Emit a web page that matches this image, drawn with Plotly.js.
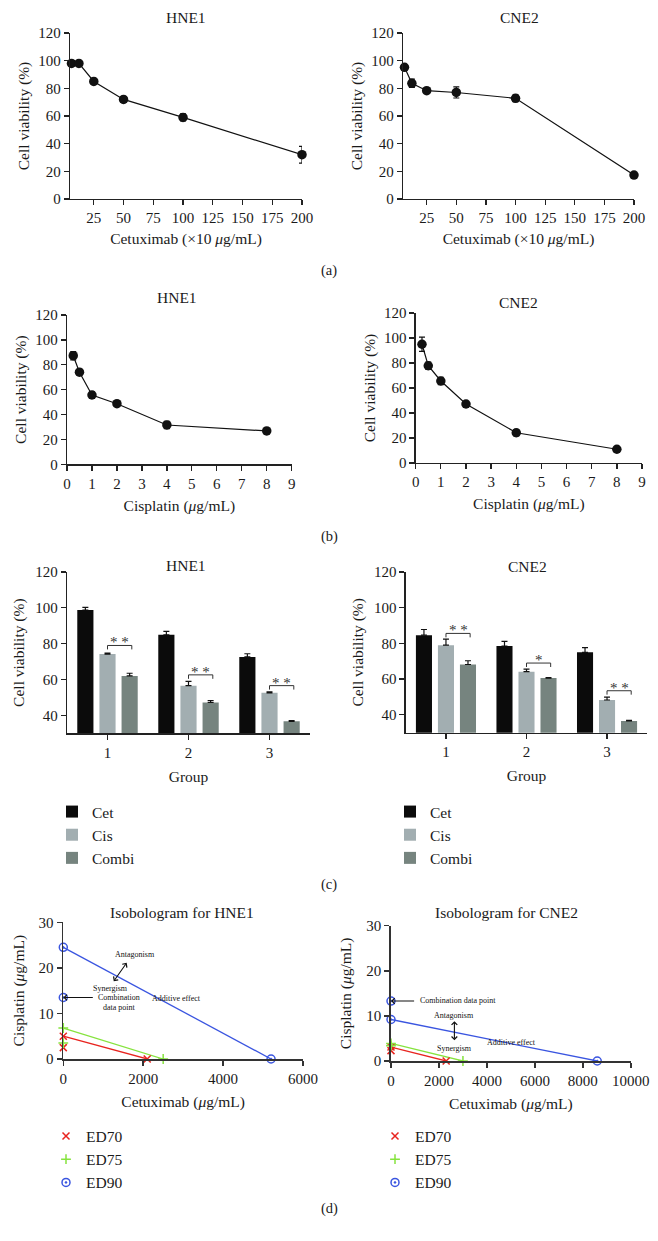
<!DOCTYPE html>
<html>
<head>
<meta charset="utf-8">
<script src="https://cdn.plot.ly/plotly-3.0.1.min.js"></script>
<style>html,body{margin:0;padding:0;background:#fff;}#chart{width:658px;height:1241px;}</style>
</head>
<body>
<div id="chart"></div>
<script>
// ---------------- DATA ----------------
const cetDoses = [6.25, 12.5, 25, 50, 100, 200];
const cetHNE1 = [98, 98, 85, 72, 59, 32];
const cetHNE1Err = [1, 1, 1, 2, 2.5, 6];
const cetCNE2 = [95.2, 83.6, 78.3, 77, 72.8, 17.3];
const cetCNE2Err = [1, 3, 1, 4, 2.5, 1];

const cisDoses = [0.25, 0.5, 1, 2, 4, 8];
const cisHNE1 = [87.3, 74, 55.7, 48.7, 31.6, 26.8];
const cisHNE1Err = [3.3, 1, 2.5, 2, 3, 1];
const cisCNE2 = [95, 77.8, 65.6, 47.2, 24.2, 11];
const cisCNE2Err = [5.7, 3, 3, 1, 2.5, 1];

const groups = [1, 2, 3];
const barNames = ['Cet', 'Cis', 'Combi'];
const hne1Cet = [98.8, 85, 72.6];
const hne1CetErr = [1.5, 1.9, 1.8];
const hne1Cis = [74.2, 56.6, 52.6];
const hne1CisErr = [0.6, 2.4, 0.5];
const hne1Combi = [62, 47.2, 36.7];
const hne1CombiErr = [1.5, 1.1, 0.4];
const cne2Cet = [84.6, 78.5, 75];
const cne2CetErr = [3.2, 2.6, 2.6];
const cne2Cis = [79, 64.2, 48.3];
const cne2CisErr = [3.4, 1.4, 1.6];
const cne2Combi = [68.2, 60.6, 36.6];
const cne2CombiErr = [2.1, 0.3, 0.3];
const hne1Sig = ['* *', '* *', '* *'];
const hne1SigY = [79, 62.6, 56.6];
const cne2Sig = ['* *', '*', '* *'];
const cne2SigY = [85.6, 69, 53.5];

// Isobolograms: additive lines (Cisplatin-alone intercept, Cetuximab-alone intercept) and combination points
const edNames = ['ED70', 'ED75', 'ED90'];
const hne1CisAlone = [5, 6.8, 24.5];
const hne1CetAlone = [2100, 2500, 5200];
const hne1Combo = [2.5, 3.5, 13.5];
const cne2CisAlone = [3.1, 3.9, 9.2];
const cne2CetAlone = [2300, 3000, 8600];
const cne2Combo = [2.3, 3.4, 13.3];

// ---------------- STYLE ----------------
const W = 658, H = 1241;
const SERIF = 'Liberation Serif';
const INK = '#1a1a1a';
const px = p => p / W;
const py = p => 1 - p / H;

const barColors = ['#0b0b0b', '#a2aeb1', '#76847f'];
const edColors = ['#e8241f', '#86e33e', '#3a55e0'];
const edSymbols = ['x-thin-open', 'cross-thin-open', 'circle-open-dot'];

function axisBase(extra) {
  return Object.assign({
    showline: true, linecolor: '#222', linewidth: 1.3,
    ticks: 'outside', ticklen: 5, tickwidth: 1.3, tickcolor: '#222',
    showgrid: false, zeroline: false, fixedrange: true, automargin: false,
    tickformat: 'd',
    tickfont: {family: SERIF, size: 15, color: INK}
  }, extra);
}
function ttl(text, standoff) {
  return {text: text, standoff: standoff, font: {family: SERIF, size: 15.5, color: INK}};
}

const traces = [];

// ---- (a) and (b) dose-response curves
function doseTrace(x, y, err, xa, ya) {
  return {
    type: 'scatter', mode: 'lines+markers', x: x, y: y,
    xaxis: xa, yaxis: ya, showlegend: false, cliponaxis: false,
    line: {color: '#111', width: 1.2},
    marker: {color: '#111', size: 9.5},
    error_y: {type: 'data', array: err, visible: true, color: '#111', thickness: 1.2, width: 3}
  };
}
traces.push(doseTrace(cetDoses, cetHNE1, cetHNE1Err, 'x', 'y'));
traces.push(doseTrace(cetDoses, cetCNE2, cetCNE2Err, 'x2', 'y2'));
traces.push(doseTrace(cisDoses, cisHNE1, cisHNE1Err, 'x3', 'y3'));
traces.push(doseTrace(cisDoses, cisCNE2, cisCNE2Err, 'x4', 'y4'));

// ---- (c) grouped bars
function barTrace(i, vals, err, xa, ya, leg) {
  return {
    type: 'bar', name: barNames[i], x: groups, y: vals,
    xaxis: xa, yaxis: ya, legend: leg, offsetgroup: String(i),
    marker: {color: barColors[i], line: {width: 0}},
    error_y: {type: 'data', symmetric: false, array: err, arrayminus: err.map(() => 0),
              visible: true, color: '#111', thickness: 1.2, width: 3}
  };
}
traces.push(barTrace(0, hne1Cet, hne1CetErr, 'x5', 'y5', 'legend'));
traces.push(barTrace(1, hne1Cis, hne1CisErr, 'x5', 'y5', 'legend'));
traces.push(barTrace(2, hne1Combi, hne1CombiErr, 'x5', 'y5', 'legend'));
traces.push(barTrace(0, cne2Cet, cne2CetErr, 'x6', 'y6', 'legend2'));
traces.push(barTrace(1, cne2Cis, cne2CisErr, 'x6', 'y6', 'legend2'));
traces.push(barTrace(2, cne2Combi, cne2CombiErr, 'x6', 'y6', 'legend2'));

// ---- (d) isobolograms
function isoTraces(cisAlone, cetAlone, combo, xa, ya, leg) {
  for (let i = 0; i < 3; i++) {
    traces.push({
      type: 'scatter', mode: 'lines', x: [0, cetAlone[i]], y: [cisAlone[i], 0],
      xaxis: xa, yaxis: ya, showlegend: false, hoverinfo: 'skip',
      line: {color: edColors[i], width: 1.3}
    });
  }
  for (let i = 0; i < 3; i++) {
    traces.push({
      type: 'scatter', mode: 'markers', name: edNames[i],
      x: [0, cetAlone[i], 0], y: [cisAlone[i], 0, combo[i]],
      xaxis: xa, yaxis: ya, legend: leg, cliponaxis: false,
      marker: {symbol: edSymbols[i], size: i === 2 ? 8 : 7, color: edColors[i],
               line: {color: edColors[i], width: 1.5}}
    });
  }
}
isoTraces(hne1CisAlone, hne1CetAlone, hne1Combo, 'x7', 'y7', 'legend3');
isoTraces(cne2CisAlone, cne2CetAlone, cne2Combo, 'x8', 'y8', 'legend4');

// ---------------- LAYOUT ----------------
const cellTitle = 'Cell viability (%)';
const dAxis = {linecolor: '#333', linewidth: 1.8, tickcolor: '#333', tickwidth: 1.5};
const legendBase = {xanchor: 'left', yanchor: 'middle', bgcolor: 'rgba(0,0,0,0)',
                    font: {family: SERIF, size: 15.5, color: INK}, traceorder: 'normal'};
const layout = {
  width: W, height: H,
  margin: {l: 0, r: 0, t: 0, b: 0},
  paper_bgcolor: '#fff', plot_bgcolor: 'rgba(0,0,0,0)',
  font: {family: SERIF, color: INK},
  barmode: 'group', bargap: 0.18, bargroupgap: 0.27,
  // (a)
  xaxis: axisBase({domain: [px(70), px(302)], anchor: 'y', range: [5, 200], tick0: 25, dtick: 25,
                   title: ttl('Cetuximab (×10 <i>μ</i>g/mL)', 8)}),
  yaxis: axisBase({domain: [py(199), py(33)], anchor: 'x', range: [0, 120], dtick: 20,
                   title: ttl(cellTitle, 4)}),
  xaxis2: axisBase({domain: [px(403), px(634)], anchor: 'y2', range: [5, 200], tick0: 25, dtick: 25,
                   title: ttl('Cetuximab (×10 <i>μ</i>g/mL)', 8)}),
  yaxis2: axisBase({domain: [py(199), py(33)], anchor: 'x2', range: [0, 120], dtick: 20,
                   title: ttl(cellTitle, 4)}),
  // (b)
  xaxis3: axisBase({domain: [px(67), px(291.7)], anchor: 'y3', range: [0, 9], dtick: 1,
                   title: ttl('Cisplatin (<i>μ</i>g/mL)', 9)}),
  yaxis3: axisBase({domain: [py(464.3), py(315)], anchor: 'x3', range: [0, 120], dtick: 20,
                   title: ttl(cellTitle, 4)}),
  xaxis4: axisBase({domain: [px(415.7), px(642)], anchor: 'y4', range: [0, 9], dtick: 1,
                   title: ttl('Cisplatin (<i>μ</i>g/mL)', 9)}),
  yaxis4: axisBase({domain: [py(463), py(313)], anchor: 'x4', range: [0, 120], dtick: 20,
                   title: ttl(cellTitle, 4)}),
  // (c)
  xaxis5: axisBase({domain: [px(67), px(310)], anchor: 'y5', range: [0.5, 3.5], tickvals: groups,
                   title: ttl('Group', 11)}),
  yaxis5: axisBase({domain: [py(733.3), py(572)], anchor: 'x5', range: [30, 120], tickvals: [40, 60, 80, 100, 120],
                   title: ttl(cellTitle, 6)}),
  xaxis6: axisBase({domain: [px(405.7), px(647.3)], anchor: 'y6', range: [0.5, 3.5], tickvals: groups,
                   title: ttl('Group', 11)}),
  yaxis6: axisBase({domain: [py(732.7), py(572)], anchor: 'x6', range: [30, 120], tickvals: [40, 60, 80, 100, 120],
                   title: ttl(cellTitle, 6)}),
  // (d)
  xaxis7: axisBase(Object.assign({domain: [px(63.3), px(303)], anchor: 'y7', range: [0, 6000], dtick: 2000,
                   title: ttl('Cetuximab (<i>μ</i>g/mL)', 10)}, dAxis)),
  yaxis7: axisBase(Object.assign({domain: [py(1059), py(922.3)], anchor: 'x7', range: [0, 30], dtick: 10,
                   title: ttl('Cisplatin (<i>μ</i>g/mL)', 10)}, dAxis)),
  xaxis8: axisBase(Object.assign({domain: [px(391), px(630.8)], anchor: 'y8', range: [0, 10000], dtick: 2000,
                   title: ttl('Cetuximab (<i>μ</i>g/mL)', 10)}, dAxis)),
  yaxis8: axisBase(Object.assign({domain: [py(1061), py(925.7)], anchor: 'x8', range: [0, 30], dtick: 10,
                   title: ttl('Cisplatin (<i>μ</i>g/mL)', 11)}, dAxis)),
  legend: Object.assign({x: px(52), y: py(835)}, legendBase),
  legend2: Object.assign({x: px(390), y: py(835)}, legendBase),
  legend3: Object.assign({x: px(46), y: py(1159.5)}, legendBase),
  legend4: Object.assign({x: px(375), y: py(1159.5)}, legendBase),
  shapes: [],
  annotations: []
};

// panel titles and labels
function paperText(text, x, y, size) {
  layout.annotations.push({text: text, x: px(x), y: py(y), xref: 'paper', yref: 'paper',
    xanchor: 'center', yanchor: 'middle', showarrow: false,
    font: {family: SERIF, size: size, color: INK}});
}
paperText('HNE1', 186, 17, 15.5);
paperText('CNE2', 519, 17, 15.5);
paperText('(a)', 329, 270, 14.5);
paperText('HNE1', 177, 297, 15.5);
paperText('CNE2', 518, 303, 15.5);
paperText('(b)', 329, 537, 14.5);
paperText('HNE1', 186, 565, 15.5);
paperText('CNE2', 527, 566, 15.5);
paperText('(c)', 329, 884, 14.5);
paperText('Isobologram for HNE1', 182, 912, 15.5);
paperText('Isobologram for CNE2', 506, 912, 15.5);
paperText('(d)', 329, 1208, 14.5);

// significance brackets
function sigBrackets(sig, sigY, xa, ya) {
  groups.forEach((g, i) => {
    const x1 = g, x2 = g + 0.3, y = sigY[i], d = 2.2;
    layout.shapes.push({type: 'path', xref: xa, yref: ya,
      path: `M${x1},${y - d} L${x1},${y} L${x2},${y} L${x2},${y - d}`,
      line: {color: '#333', width: 1}});
    layout.annotations.push({text: sig[i], x: (x1 + x2) / 2, y: y, xref: xa, yref: ya,
      xanchor: 'center', yanchor: 'bottom', showarrow: false, yshift: -7,
      font: {family: SERIF, size: 15, color: '#333'}});
  });
}
sigBrackets(hne1Sig, hne1SigY, 'x5', 'y5');
sigBrackets(cne2Sig, cne2SigY, 'x6', 'y6');

// isobologram notes
function note(text, x, y, xa, ya) {
  layout.annotations.push({text: text, x: x, y: y, xref: xa, yref: ya, showarrow: false,
    xanchor: 'center', yanchor: 'middle', font: {family: SERIF, size: 8, color: '#111'}});
}
function arrow(x, y, ax, ay, xa, ya, both) {
  layout.annotations.push({text: '', x: x, y: y, ax: ax, ay: ay, xref: xa, yref: ya,
    axref: xa, ayref: ya, showarrow: true, arrowhead: 4, startarrowhead: 4,
    arrowside: both ? 'end+start' : 'end', arrowsize: 1, startarrowsize: 1,
    arrowwidth: 1.1, arrowcolor: '#111'});
}
note('Antagonism', 1795, 23.0, 'x7', 'y7');
arrow(1587, 21.1, 1236, 16.75, 'x7', 'y7', true);
note('Synergism', 1169, 15.4, 'x7', 'y7');
note('Combination<br>data point', 1394, 12.3, 'x7', 'y7');
arrow(0, hne1Combo[2], 776, hne1Combo[2], 'x7', 'y7', false);
note('Additive effect', 2838, 13.3, 'x7', 'y7');

note('Combination data point', 2786, 13.4, 'x8', 'y8');
arrow(0, cne2Combo[2], 1026, cne2Combo[2], 'x8', 'y8', false);
note('Antagonism', 2644, 10.0, 'x8', 'y8');
arrow(2644, 8.83, 2644, 4.26, 'x8', 'y8', true);
note('Synergism', 2644, 2.8, 'x8', 'y8');
note('Additive effect', 5037, 4.13, 'x8', 'y8');

Plotly.newPlot('chart', traces, layout, {staticPlot: true, displayModeBar: false});
</script>
</body>
</html>
